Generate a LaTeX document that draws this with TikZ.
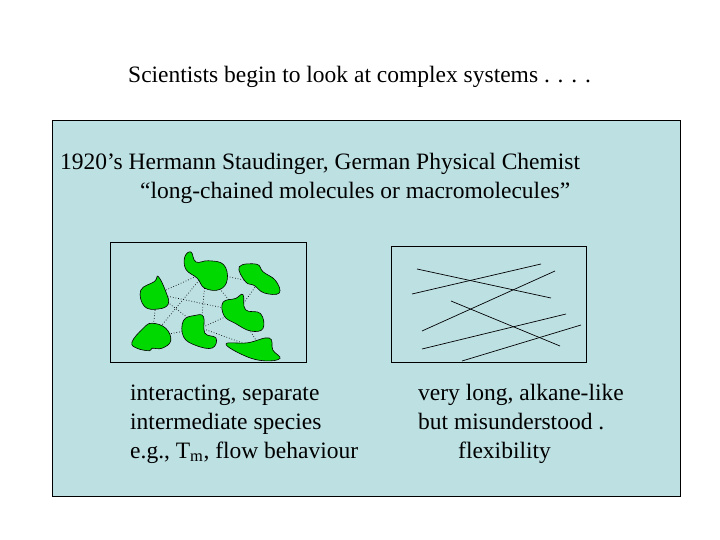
\documentclass[tikz,border=0pt]{standalone}
\usepackage{fontspec}
\setmainfont{Liberation Serif}
\begin{document}
\begin{tikzpicture}[x=1pt,y=-1pt,
  txt/.style={font=\fontsize{23.5}{28}\selectfont,inner sep=0pt,anchor=base west},
  frame/.style={draw=black,line width=0.8pt},
  blob/.style={draw=black,fill=green!85!black,line width=0.6pt},
  link/.style={dotted,line width=0.7pt},
  rod/.style={line width=0.7pt}]
\useasboundingbox (0,0) rectangle (720,540);
\node[txt] (title) at (128,83) {Scientists begin to look at complex systems . . . .};
\draw[frame,fill={rgb,255:red,189;green,224;blue,227}] (52,120) rectangle (680,496);
\node[txt] (l1) at (60,170) {1920’s Hermann Staudinger, German Physical Chemist};
\node[txt] (l2) at (140,199) {“long-chained molecules or macromolecules”};
\draw[frame] (110,242) rectangle (306,362);
\draw[frame] (391,246) rectangle (586,362);
% blob centres
\coordinate (A) at (206,272);
\coordinate (B) at (258,283);
\coordinate (C) at (157,294);
\coordinate (D) at (238,311);
\coordinate (E) at (201,328);
\coordinate (F) at (152,337);
\coordinate (G) at (262,350);
\draw[link] (A)--(B) (A)--(C) (A)--(D) (A)--(E) (A)--(F) (C)--(D) (C)--(E) (C)--(F)
  (B)--(D) (D)--(G) (E)--(G) (E)--(F) (D)--(E);
\draw[blob,scale around={1.25:(A)}] plot[smooth cycle,tension=0.7] coordinates{(189,260)(194,256)(198,264)(208,263)(220,266)(223,278)(217,286)(205,285)(199,277)(190,270)};
\draw[blob,scale around={1.25:(B)}] plot[smooth cycle,tension=0.7] coordinates{(243,270)(257,268)(262,274)(272,281)(275,291)(263,291)(255,285)(248,282)};
\draw[blob,scale around={1.25:(C)}] plot[smooth cycle,tension=0.7] coordinates{(144,291)(155,284)(158,280)(164,292)(166,302)(158,306)(147,304)};
\draw[blob,scale around={1.25:(D)}] plot[smooth cycle,tension=0.7] coordinates{(226,304)(236,301)(242,298)(244,310)(256,313)(258,325)(248,327)(236,321)(227,315)};
\draw[blob,scale around={1.25:(E)}] plot[smooth cycle,tension=0.7] coordinates{(187,322)(196,318)(203,319)(204,332)(213,336)(210,344)(197,342)(187,335)};
\draw[blob,scale around={1.25:(F)}] plot[smooth cycle,tension=0.7] coordinates{(145,330)(152,326)(163,330)(167,340)(160,346)(152,346)(150,348)(140,346)(136,341)};
\draw[blob,scale around={1.2:(G)}] plot[smooth cycle,tension=0.7] coordinates{(232,345)(250,344)(268,340)(271,350)(277,357)(264,359)(248,355)};
% rods
\draw[rod] (417,269)--(551,298);
\draw[rod] (412,294)--(541,264);
\draw[rod] (422,331)--(555,271);
\draw[rod] (451,301)--(560,346);
\draw[rod] (422,349)--(566,314);
\draw[rod] (462,361)--(581,325);
\node[txt] (c1) at (130,400) {interacting, separate};
\node[txt] (c2) at (130,429) {intermediate species};
\node[txt] (c3) at (130,458) {e.g., T\textsubscript{m}, flow behaviour};
\node[txt] (d1) at (418,400) {very long, alkane-like};
\node[txt] (d2) at (418,429) {but misunderstood .};
\node[txt] (d3) at (458,458) {flexibility};
\end{tikzpicture}
\end{document}
